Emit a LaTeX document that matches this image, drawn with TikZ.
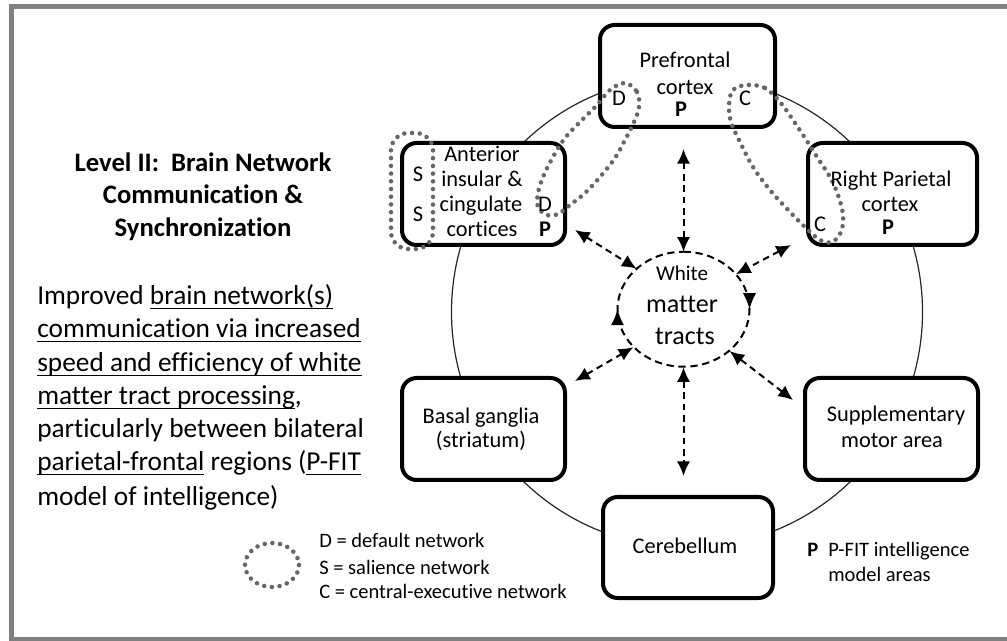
\documentclass[tikz,border=0pt]{standalone}
\usepackage{fontspec}
\setmainfont{Carlito}[Ligatures=NoCommon]
\usetikzlibrary{arrows.meta,shapes.geometric,decorations.markings,calc}

% underline with a firmer rule than \underline
\newsavebox\ulbox
\newcommand\undl[1]{\sbox\ulbox{#1}\rlap{\rule[-3.3pt]{\wd\ulbox}{1.1pt}}\usebox\ulbox}

\begin{document}
\begin{tikzpicture}[x=0.75pt,y=-0.75pt,
  box/.style={draw=black, line width=3pt, rounded corners=11pt, fill=white, inner sep=0pt},
  bt/.style={font=\fontsize{16.8}{20}\selectfont, inner sep=0pt, anchor=base},
  btp/.style={bt, font=\fontsize{16.8}{20}\selectfont\bfseries},
  ttl/.style={font=\fontsize{20}{24}\selectfont\bfseries, inner sep=0pt, anchor=base},
  body/.style={font=\fontsize{20.5}{24}\selectfont, inner sep=0pt, anchor=base west},
  leg/.style={font=\fontsize{15.4}{18}\selectfont, inner sep=0pt, anchor=base west},
  dot/.style={draw=black!60, line width=3.4pt, line cap=round, dash pattern=on 0pt off 5.8pt},
  tip/.style={arrows={Latex[length=11pt,width=10pt]-Latex[length=11pt,width=10pt]}},
  dar/.style={line width=1.5pt, dash pattern=on 5pt off 3.5pt, tip},
  wmline/.style={line width=1.5pt, dash pattern=on 5.5pt off 3.5pt,
    postaction={decorate, decoration={markings,
      mark=at position 0.25 with {\arrow{Latex[length=12pt,width=10pt]}},
      mark=at position 0.75 with {\arrow{Latex[length=12pt,width=10pt]}}}}}]

\useasboundingbox (0,0) rectangle (1007,641);
\clip (0,0) rectangle (1007,641);

% outer frame
\draw[draw=black!50, line width=3.75pt] (11.5,6.5) rectangle (1030,639.5);

% thin ring joining the regions
\node[circle, draw=black!85, line width=0.9pt, minimum size=353.25pt, inner sep=0pt] (ring) at (687,312) {};

% region boxes
\node[box, minimum width=131.25pt, minimum height=76.5pt] (pf) at (687.5,76) {};
\node[box, minimum width=122.25pt, minimum height=76.5pt] (an) at (483.5,194) {};
\node[box, minimum width=126.75pt, minimum height=76.5pt] (rp) at (892.5,194) {};
\node[box, minimum width=129.75pt, minimum height=76.5pt] (sm) at (891.5,429) {};
\node[box, minimum width=122.25pt, minimum height=76.5pt] (bg) at (483.5,429) {};
\node[box, minimum width=127.5pt, minimum height=75.75pt] (cb) at (688,547.5) {};

% white matter hub
\node[ellipse, minimum width=99pt, minimum height=86.25pt, inner sep=0pt] (wm) at (683.5,309.5) {};
\draw[wmline] (wm.north) arc[start angle=90, end angle=-270, x radius=49.5pt, y radius=43.125pt];

% network loops
\draw[dot, rounded corners=13pt] (391,133) rectangle (433,249);
\draw[dot] plot[smooth cycle, tension=0.6] coordinates {(625,83) (637,92) (639,107) (634,122) (625,140) (615,158) (600,177) (585,193) (570,205) (558,214) (547,215) (538,207) (538,193) (543,177) (553,157) (565,138) (580,122) (597,105) (610,90)};
\draw[dot] plot[smooth cycle, tension=0.6] coordinates {(747,85) (765,88) (780,102) (793,120) (805,138) (817,157) (830,177) (838,195) (843,215) (841,232) (832,242) (820,240) (807,229) (790,212) (770,190) (753,167) (740,142) (731,122) (729,105) (733,90)};

% box labels
\node[bt] (pf1) at (685,68) {Prefrontal};
\node[bt] (pf2) at (685,95) {cortex};
\node[btp] (pfp) at (681,117) {P};
\node[bt] (pfd) at (619,106) {D};
\node[bt] (pfc) at (745,106) {C};

\node[bt] (an1) at (482,162) {Anterior};
\node[bt] (an2) at (482,187) {insular \&};
\node[bt] (an3) at (481,212) {cingulate};
\node[bt] (an4) at (482,237) {cortices};
\node[bt] (ans1) at (418,182) {S};
\node[bt] (ans2) at (418,222) {S};
\node[bt] (and) at (545,212) {D};
\node[btp] (anp) at (545,237) {P};

\node[bt] (rp1) at (891,187) {Right Parietal};
\node[bt] (rp2) at (890,212) {cortex};
\node[btp] (rpp) at (888,235) {P};
\node[bt] (rpc) at (820,232) {C};

\node[bt] (sm1) at (896,422) {Supplementary};
\node[bt] (sm2) at (892,448) {motor area};

\node[bt] (bg1) at (481,424) {Basal ganglia};
\node[bt] (bg2) at (481,448) {(striatum)};

\node[bt] (cb1) at (685,553) {Cerebellum};

\node[bt, font=\fontsize{15.8}{18}\selectfont] (wm1) at (682,281) {White};
\node[bt, font=\fontsize{19.5}{22}\selectfont] (wm2) at (682,313) {matter};
\node[bt, font=\fontsize{19.5}{22}\selectfont] (wm3) at (685,345) {tracts};

% links to the hub
\draw[dar] ($(wm |- pf.south)+(0,20)$) -- (wm.north);
\draw[dar] ($(an.south east)+(8,-17)$) -- (wm.139);
\draw[dar] ($(rp.south west)+(-15,-2)$) -- (wm.34);
\draw[dar] ($(bg.north east)+(8,5)$) -- (wm.217);
\draw[dar] ($(sm.north west)+(-10,24)$) -- (wm.318);
\draw[dar] (wm.south) -- ($(wm |- cb.north)+(0,-19)$);

% heading
\node[ttl] (t1) at (203,172) {Level II:\ \ Brain Network};
\node[ttl] (t2) at (203,204) {Communication \&};
\node[ttl] (t3) at (203,237) {Synchronization};

% description
\node[body] (b1) at (37,305) {Improved \undl{brain network(s)}};
\node[body] (b2) at (37,338) {\undl{communication via increased}};
\node[body] (b3) at (37,372) {\undl{speed and efficiency of white}};
\node[body] (b4) at (37,405) {\undl{matter tract processing},};
\node[body] (b5) at (37,438) {particularly between bilateral};
\node[body] (b6) at (37,471) {\undl{parietal-frontal} regions (\undl{P-FIT}};
\node[body] (b7) at (37,505) {model of intelligence)};

% legend
\draw[dot] (272,565) ellipse [x radius=27, y radius=22];
\node[leg] (l1) at (319,547) {D = default network};
\node[leg] (l2) at (319,574) {S = salience network};
\node[leg] (l3) at (319,598) {C = central-executive network};
\node[leg, font=\fontsize{15.4}{18}\selectfont\bfseries] (lp) at (807,556) {P};
\node[leg] (lp1) at (828,556) {P-FIT intelligence};
\node[leg] (lp2) at (828,581) {model areas};
\end{tikzpicture}
\end{document}
